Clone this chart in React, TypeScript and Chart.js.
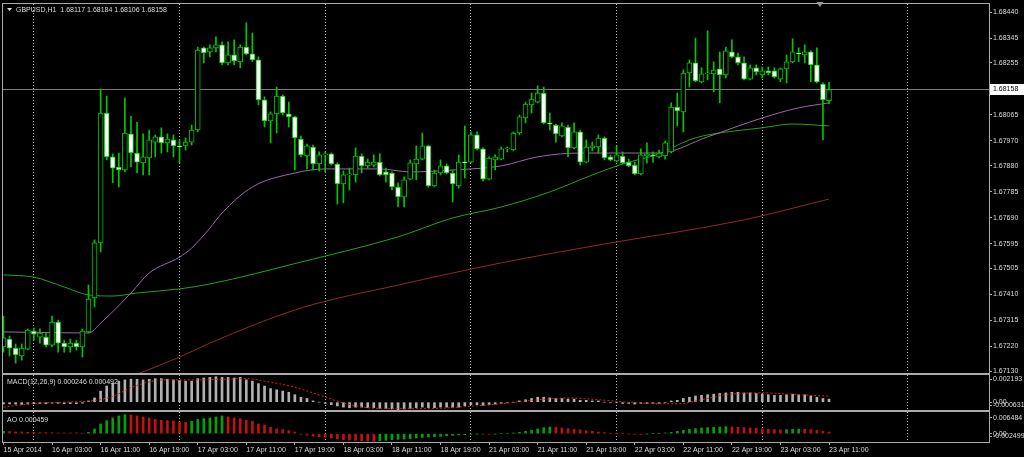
import React, { useEffect, useRef } from "react";
import { Chart, registerables } from "chart.js";

Chart.register(...registerables);

// ---------------- data ----------------
const symbolLabel = "GBPUSD,H1";

const opens = [
  1.67218, 1.67247, 1.67214, 1.67185, 1.6721, 1.67276, 1.67254, 1.67254, 1.67225, 1.67309,
  1.67232, 1.67218, 1.67232, 1.67218, 1.67273, 1.67397, 1.67598, 1.68072, 1.67912, 1.67875,
  1.67864, 1.67996, 1.67926, 1.6789, 1.67908, 1.67966, 1.67985, 1.67963, 1.67974, 1.67952,
  1.67952, 1.67966, 1.6801, 1.6831, 1.68295, 1.6831, 1.68321, 1.68255, 1.68284, 1.68259,
  1.68313, 1.68288, 1.68266, 1.6812, 1.68043, 1.68069, 1.68134, 1.68069, 1.68058, 1.67977,
  1.67915, 1.67948, 1.67886, 1.67919, 1.67923, 1.67886, 1.67813, 1.67846, 1.67846, 1.67915,
  1.67879, 1.67882, 1.67893, 1.67857, 1.67853, 1.67802, 1.67766, 1.67831, 1.67886, 1.67904,
  1.67952, 1.67806, 1.67853, 1.67879, 1.67853, 1.67806, 1.67893, 1.67893, 1.67992, 1.67941,
  1.67831, 1.67901, 1.67904, 1.67941, 1.67937, 1.67999, 1.68054, 1.68102, 1.68112, 1.68145,
  1.68036, 1.68028, 1.67988, 1.68021, 1.67945, 1.68003, 1.67893, 1.67945, 1.67948, 1.67981,
  1.67912, 1.67897, 1.67915, 1.67893, 1.67882, 1.6785, 1.67915, 1.67919, 1.67912, 1.67915,
  1.6793, 1.68094, 1.68076, 1.68218, 1.68255, 1.68186, 1.68215, 1.68215, 1.68233, 1.68211,
  1.68295, 1.68277, 1.68255, 1.68196, 1.68237, 1.68211, 1.68226, 1.68226, 1.68196, 1.68233,
  1.68259, 1.68291, 1.68284, 1.68295, 1.68248, 1.68178, 1.68117,
];
const highs = [
  1.67331, 1.67258, 1.67229, 1.67229, 1.67284, 1.67287, 1.67284, 1.67269, 1.67331, 1.67316,
  1.67243, 1.67247, 1.67243, 1.67284, 1.67444, 1.67609, 1.6816, 1.68134, 1.67923, 1.67926,
  1.68127, 1.68061, 1.68039, 1.67996, 1.6801, 1.67992, 1.68018, 1.67996, 1.67992, 1.67974,
  1.67981, 1.68028, 1.68313, 1.68313, 1.68321, 1.6835, 1.68332, 1.68332, 1.68339, 1.68321,
  1.68401, 1.68364, 1.68277, 1.68131, 1.68076, 1.68167, 1.68138, 1.68112, 1.68061, 1.67988,
  1.67959, 1.67955, 1.6793, 1.6793, 1.67926, 1.6789, 1.67861, 1.67871, 1.67945, 1.67923,
  1.67904, 1.67919, 1.67923, 1.67871, 1.67857, 1.67817, 1.67839, 1.67901, 1.67952, 1.67999,
  1.67955, 1.67864, 1.67901, 1.67886, 1.67864, 1.67919, 1.68025, 1.68003, 1.68003, 1.67945,
  1.67912, 1.67919, 1.67948, 1.67948, 1.68003, 1.68065, 1.68112, 1.68145, 1.68171, 1.68167,
  1.68072, 1.68032, 1.68036, 1.68028, 1.68036, 1.6801, 1.67974, 1.67966, 1.67992, 1.67985,
  1.67919, 1.67952, 1.6793, 1.67904, 1.67893, 1.67941, 1.67963, 1.6793, 1.67937, 1.6797,
  1.68109, 1.68145, 1.68229, 1.68266, 1.68346, 1.68237, 1.68372, 1.68259, 1.68295, 1.68313,
  1.68339, 1.68291, 1.68277, 1.68248, 1.68248, 1.6824, 1.6824, 1.68237, 1.68237, 1.68284,
  1.68343, 1.6831, 1.68321, 1.68299, 1.6831, 1.68182, 1.68184,
];
const lows = [
  1.67199, 1.67185, 1.67159, 1.6717, 1.67207, 1.67243, 1.67232, 1.67218, 1.67218, 1.67199,
  1.67199, 1.67199, 1.67207, 1.67181, 1.67269, 1.67364, 1.67565, 1.67901, 1.67817, 1.67802,
  1.67857, 1.67875, 1.67853, 1.67846, 1.67846, 1.67912, 1.67926, 1.6793, 1.67912, 1.6789,
  1.67937, 1.67955, 1.68003, 1.68255, 1.68277, 1.68295, 1.68248, 1.68248, 1.68248, 1.68237,
  1.68284, 1.68259, 1.68102, 1.68021, 1.67963, 1.67999, 1.68065, 1.68021, 1.67864, 1.67912,
  1.67868, 1.67864, 1.67861, 1.67857, 1.67882, 1.6774, 1.67744, 1.67791, 1.6782, 1.67853,
  1.67871, 1.67875, 1.67842, 1.6782, 1.67791, 1.67729, 1.67729, 1.67828, 1.67828, 1.67901,
  1.67802, 1.67802, 1.67846, 1.6785, 1.67747, 1.67798, 1.67835, 1.6789, 1.67937, 1.67824,
  1.67828, 1.67864, 1.67901, 1.6793, 1.67934, 1.67992, 1.68036, 1.68072, 1.68109, 1.68032,
  1.6801, 1.67966, 1.67985, 1.67912, 1.67941, 1.67882, 1.6789, 1.67934, 1.67926, 1.67901,
  1.67897, 1.67893, 1.67886, 1.67875, 1.67846, 1.67846, 1.6789, 1.67893, 1.67908, 1.67904,
  1.67926, 1.68025, 1.68003, 1.68167, 1.68186, 1.68182, 1.68193, 1.68149, 1.68109, 1.682,
  1.68273, 1.68248, 1.68193, 1.68193, 1.68211, 1.682, 1.68211, 1.682, 1.68186, 1.68182,
  1.68255, 1.68259, 1.68255, 1.68186, 1.68182, 1.67974, 1.68106,
];
const closes = [
  1.67251, 1.67214, 1.67189, 1.67214, 1.6728, 1.67265, 1.67269, 1.67225, 1.67309, 1.67232,
  1.67218, 1.67232, 1.67218, 1.67276, 1.67393, 1.67598, 1.68072, 1.67912, 1.67871, 1.67864,
  1.67999, 1.67926, 1.67893, 1.67912, 1.67974, 1.67985, 1.67963, 1.67977, 1.67952, 1.67948,
  1.67966, 1.6801, 1.68302, 1.68291, 1.6831, 1.68321, 1.68255, 1.68284, 1.68262, 1.68313,
  1.68288, 1.68266, 1.6812, 1.68043, 1.68069, 1.68134, 1.68072, 1.68058, 1.67981, 1.67919,
  1.67952, 1.67886, 1.67919, 1.67923, 1.67886, 1.67813, 1.67846, 1.6785, 1.67915, 1.67879,
  1.67893, 1.67893, 1.67846, 1.67846, 1.67802, 1.67766, 1.67828, 1.6789, 1.67904, 1.67952,
  1.67806, 1.67853, 1.67879, 1.67853, 1.67813, 1.67893, 1.6789, 1.67992, 1.67941, 1.67831,
  1.67908, 1.67912, 1.67941, 1.67945, 1.67999, 1.68058, 1.68105, 1.68123, 1.68145, 1.68036,
  1.68032, 1.67996, 1.68025, 1.67945, 1.68003, 1.67893, 1.67948, 1.67952, 1.67981, 1.67908,
  1.67901, 1.67919, 1.6789, 1.67879, 1.6785, 1.67919, 1.67923, 1.67915, 1.67926, 1.67963,
  1.68094, 1.6808, 1.68218, 1.68255, 1.68189, 1.68215, 1.68218, 1.68229, 1.68211, 1.68299,
  1.68277, 1.68255, 1.68196, 1.68237, 1.68222, 1.68226, 1.68218, 1.68204, 1.68233, 1.68259,
  1.68295, 1.68288, 1.68295, 1.68248, 1.68186, 1.6812, 1.68158,
];

// moving averages, read at selected bars
const maFastBars = [0, 14, 16, 21, 24, 29, 31, 34, 36, 41, 48, 53, 62, 67, 74, 82, 88, 95, 102, 108, 116, 125, 131, 136];
const maFastValues = [
  1.67273, 1.67269, 1.67305, 1.67415, 1.67488, 1.67546, 1.67579, 1.67652, 1.67707, 1.67802,
  1.67853, 1.67868, 1.67868, 1.67857, 1.67864, 1.67879, 1.67912, 1.67926, 1.67926, 1.67926,
  1.67985, 1.68054, 1.68091, 1.68109,
];
const maMidBars = [0, 5, 10, 14, 18, 22, 29, 34, 49, 65, 74, 82, 90, 97, 102, 108, 113, 116, 125, 130, 136];
const maMidValues = [
  1.67481, 1.67473, 1.67437, 1.67408, 1.67404, 1.67415, 1.6743, 1.67448, 1.67528, 1.6762,
  1.67689, 1.67729, 1.67784, 1.67846, 1.67886, 1.67923, 1.67974, 1.67992, 1.68018, 1.68032,
  1.68025,
];
const maSlowBars = [21, 29, 34, 49, 65, 82, 98, 122, 136];
const maSlowValues = [1.6711, 1.67181, 1.67232, 1.6736, 1.67444, 1.67525, 1.6759, 1.67682, 1.67758];

// time axis
const timeTickLabels = [
  "15 Apr 2014", "16 Apr 03:00", "16 Apr 11:00", "16 Apr 19:00", "17 Apr 03:00", "17 Apr 11:00",
  "17 Apr 19:00", "18 Apr 03:00", "18 Apr 11:00", "18 Apr 19:00", "21 Apr 03:00", "21 Apr 11:00",
  "21 Apr 19:00", "22 Apr 03:00", "22 Apr 11:00", "22 Apr 19:00", "23 Apr 03:00", "23 Apr 11:00",
];
const barsPerTimeTick = 8;
const gridBars = [5, 29, 53, 77, 101, 125, 149];

// price axis
const priceTicks = [
  1.6844, 1.68345, 1.68255, 1.68065, 1.6797, 1.6788, 1.67785, 1.6769, 1.67595, 1.67505,
  1.6741, 1.67315, 1.6722, 1.6713,
];
const priceMin = 1.67123;
const priceMax = 1.6847;

// MACD(12,26,9)
const macdParams = "12,26,9";
const macdMain = [
  -0.00015, -0.00014, -0.00016, -0.00018, -0.00015, -0.00013, -0.00012, -0.00012, -0.00008, -0.0001,
  -0.00012, -0.00012, -0.00013, -0.00008, 0.0001, 0.00034, 0.00089, 0.0013, 0.00153, 0.0017,
  0.0018, 0.00186, 0.00185, 0.0018, 0.00185, 0.0019, 0.0019, 0.00185, 0.0018, 0.00175,
  0.0017, 0.0017, 0.0019, 0.00195, 0.002, 0.00205, 0.002, 0.002, 0.00195, 0.002,
  0.0018, 0.0017, 0.0015, 0.0013, 0.0011, 0.001, 0.0009, 0.0008, 0.0006, 0.0004,
  0.0003, 0.0001, 0.0, -0.0001, -0.0002, -0.0003, -0.0004, -0.00045, -0.0004, -0.0004,
  -0.00045, -0.00045, -0.0005, -0.0005, -0.00055, -0.0006, -0.00055, -0.0005, -0.00045, -0.0004,
  -0.00045, -0.00045, -0.0004, -0.0004, -0.00045, -0.0004, -0.0003, -0.0002, -0.0002, -0.00025,
  -0.0002, -0.00015, -0.0001, -0.00005, 0.0, 0.0001, 0.0002, 0.0003, 0.0004, 0.0004,
  0.00035, 0.0003, 0.0003, 0.00025, 0.00025, 0.00015, 0.00015, 0.0001, 0.0001, 0.0,
  -0.00005, -0.00005, -0.0001, -0.0001, -0.00015, -0.0001, -0.0001, -0.0001, -0.0001, -0.00005,
  0.0001, 0.00015, 0.0003, 0.0004, 0.0005, 0.00055, 0.0006, 0.00065, 0.0007, 0.00075,
  0.0008, 0.0008, 0.00075, 0.00075, 0.0007, 0.00065, 0.0006, 0.00055, 0.00055, 0.0006,
  0.00065, 0.0006, 0.0006, 0.0005, 0.0004, 0.0003, 0.000246,
];
const macdSignalBars = [0, 5, 10, 15, 18, 21, 24, 27, 32, 40, 43, 48, 53, 56, 62, 71, 76, 82, 87, 93, 98, 104, 111, 115, 119, 125, 131, 136];
const macdSignalValues = [
  -0.0004, -0.0001, 0.0, 0.00014, 0.00047, 0.00117, 0.00164, 0.0018, 0.0018, 0.0019,
  0.0017, 0.0012, 0.00042, -0.00007, -0.0005, -0.0005, -0.00036, -0.00013, 0.00014, 0.00034,
  0.0002, -0.00005, -0.00013, 0.0002, 0.0006, 0.00075, 0.0006, 0.000492,
];
const macdAxisLabels = ["0.002193", "0.00", "-0.000631"];
const macdMin = -0.000631;
const macdMax = 0.002193;

// Awesome Oscillator
const aoValues = [
  0.0007, 0.0006, 0.0005, 0.0005, 0.0004, 0.0004, 0.0003, 0.0003, 0.0003, 0.0002,
  0.0002, 0.0002, 0.0002, 0.0001, 0.0004, 0.0014, 0.0029, 0.0039, 0.0047, 0.0053,
  0.0057, 0.0056, 0.0053, 0.005, 0.0047, 0.0043, 0.004, 0.0039, 0.0038, 0.0035,
  0.0034, 0.0037, 0.0043, 0.0045, 0.0047, 0.005, 0.0053, 0.005, 0.0047, 0.0045,
  0.004, 0.0037, 0.0029, 0.0026, 0.0019, 0.0014, 0.0012, 0.0009, 0.0005, -0.0002,
  -0.0004, -0.0007, -0.0009, -0.0011, -0.0013, -0.0016, -0.0018, -0.0019, -0.002, -0.0021,
  -0.0022, -0.0023, -0.0021, -0.002, -0.0018, -0.0017, -0.0016, -0.0015, -0.0013, -0.0011,
  -0.001, -0.0009, -0.0008, -0.0006, -0.0005, -0.0004, -0.0003, -0.0002, -0.0001, -0.00015,
  -0.0002, -0.0001, 0.0, 0.0001, 0.0002, 0.0004, 0.0007, 0.001, 0.0014, 0.0018,
  0.002, 0.0019, 0.0017, 0.0015, 0.0013, 0.0011, 0.0009, 0.0007, 0.0005, 0.0003,
  0.0001, 0.00005, 0.0, -0.0001, -0.0002, -0.00025, -0.0001, 0.0, 0.0001, 0.0002,
  0.0004, 0.0007, 0.001, 0.0013, 0.0015, 0.0017, 0.0018, 0.0019, 0.002, 0.0021,
  0.002, 0.0019, 0.0018, 0.0017, 0.0016, 0.0014, 0.0013, 0.0012, 0.0011, 0.0012,
  0.0013, 0.0014, 0.0013, 0.0012, 0.001, 0.0007, 0.000459,
];
const aoAxisLabels = ["0.006484", "0.00", "-0.002499"];
const aoMin = -0.002499;
const aoMax = 0.006484;

// ---------------- layout / style ----------------
const W = 1024;
const PLOT_LEFT = 3;
const PLOT_RIGHT = 989;
const FIRST_BAR_X = 3.5;
const BAR_STEP = 6.07;
const X_MIN = (PLOT_LEFT - FIRST_BAR_X) / BAR_STEP;
const X_MAX = (PLOT_RIGHT - FIRST_BAR_X) / BAR_STEP;

const FONT = "'Liberation Sans', Arial, sans-serif";
const FONT_SIZE = 7;
const TXT = "#dcdcdc";
const FRAME = "#ababab";
const GRID = "#b8b8b8";
const CANDLE = "#00c800";
const MA_FAST = "#9c68a8";
const MA_MID = "#1ea41e";
const MA_SLOW = "#8e2a2a";
const BID_LINE = "#7a7a7a";
const MACD_BAR = "#b0b0b0";
const MACD_SIG = "#e02020";
const AO_UP = "#00a400";
const AO_DOWN = "#c41010";

Chart.defaults.font.family = FONT;
Chart.defaults.font.size = FONT_SIZE;

const fmt5 = (v: number) => v.toFixed(5);

function fitAxis(width?: number, height?: number) {
  return (s: any) => {
    if (width !== undefined) s.width = width;
    if (height !== undefined) s.height = height;
    s.paddingTop = 0;
    s.paddingBottom = 0;
    s.paddingLeft = 0;
    s.paddingRight = 0;
  };
}

function xScales(showLabels: boolean) {
  return {
    x: {
      type: "linear",
      min: X_MIN,
      max: X_MAX,
      offset: false,
      display: showLabels,
      position: "bottom",
      afterBuildTicks: (s: any) => {
        s.ticks = timeTickLabels.map((_, k) => ({ value: k * barsPerTimeTick }));
      },
      afterFit: fitAxis(undefined, showLabels ? 15 : 0),
      ticks: {
        autoSkip: false,
        maxRotation: 0,
        minRotation: 0,
        align: "start",
        padding: 1,
        color: TXT,
        font: { size: FONT_SIZE, family: FONT },
        callback: (_v: any, k: number) => timeTickLabels[k],
      },
      grid: { offset: false, drawOnChartArea: false, drawTicks: true, tickLength: 3, tickColor: FRAME, color: FRAME },
      border: { display: false },
    },
    xg: {
      type: "linear",
      min: X_MIN,
      max: X_MAX,
      offset: false,
      position: "bottom",
      afterBuildTicks: (s: any) => {
        s.ticks = gridBars.map((v) => ({ value: v }));
      },
      afterFit: fitAxis(undefined, 0),
      ticks: { display: false },
      grid: { offset: false, drawTicks: false, color: GRID, lineWidth: 1, borderDash: [1, 2] },
      border: { display: false, dash: [1, 2] },
    },
  };
}

function yScale(min: number, max: number, values: () => number[], label: (v: number, k: number) => string) {
  return {
    position: "right",
    min,
    max,
    afterBuildTicks: (s: any) => {
      s.ticks = values().map((v) => ({ value: v }));
    },
    afterFit: fitAxis(W - PLOT_RIGHT, undefined),
    ticks: {
      autoSkip: false,
      padding: 1,
      color: TXT,
      font: { size: FONT_SIZE, family: FONT },
      callback: (v: any, k: number) => label(Number(v), k),
    },
    grid: { drawOnChartArea: false, drawTicks: true, tickLength: 3, tickColor: FRAME, color: FRAME },
    border: { display: false },
  };
}

function drawFrame(chart: any) {
  const { ctx, chartArea: a } = chart;
  ctx.save();
  ctx.strokeStyle = FRAME;
  ctx.lineWidth = 1;
  ctx.strokeRect(a.left - 0.5, a.top - 0.5, a.right - a.left + 1, a.bottom - a.top + 1);
  ctx.restore();
}

function drawText(chart: any, text: string, x: number, y: number, color = TXT) {
  const ctx = chart.ctx;
  ctx.save();
  ctx.font = `${FONT_SIZE}px ${FONT}`;
  ctx.fillStyle = color;
  ctx.textAlign = "left";
  ctx.textBaseline = "middle";
  ctx.fillText(text, x, y);
  ctx.restore();
}

const baseOptions = (padding: any) => ({
  animation: false,
  responsive: false,
  maintainAspectRatio: false,
  layout: { padding },
  plugins: { legend: { display: false }, tooltip: { enabled: false } },
  events: [],
});

function mainConfig(): any {
  const last = closes.length - 1;
  const bars = opens.map((_, i) => i);
  return {
    type: "bar",
    data: {
      datasets: [
        {
          type: "bar",
          order: 0,
          data: bars.map((i) => ({ x: i, y: [opens[i], closes[i]] })),
          backgroundColor: bars.map((i) => (closes[i] >= opens[i] ? "#000000" : "#ffffff")),
          borderColor: CANDLE,
          borderWidth: 1,
          borderSkipped: false,
          barThickness: 5,
          minBarLength: 1,
          grouped: false,
        },
        {
          type: "bar",
          order: 1,
          data: bars.map((i) => ({ x: i, y: [lows[i], highs[i]] })),
          backgroundColor: CANDLE,
          borderWidth: 0,
          barThickness: 1,
          grouped: false,
        },
        {
          type: "line",
          order: 2,
          data: maFastBars.map((b, k) => ({ x: b, y: maFastValues[k] })),
          borderColor: MA_FAST,
          borderWidth: 1,
          pointRadius: 0,
          cubicInterpolationMode: "monotone",
        },
        {
          type: "line",
          order: 3,
          data: maMidBars.map((b, k) => ({ x: b, y: maMidValues[k] })),
          borderColor: MA_MID,
          borderWidth: 1,
          pointRadius: 0,
          cubicInterpolationMode: "monotone",
        },
        {
          type: "line",
          order: 4,
          data: maSlowBars.map((b, k) => ({ x: b, y: maSlowValues[k] })),
          borderColor: MA_SLOW,
          borderWidth: 1,
          pointRadius: 0,
          cubicInterpolationMode: "monotone",
        },
      ],
    },
    options: {
      ...baseOptions({ left: PLOT_LEFT, top: 4, bottom: 3, right: 0 }),
      scales: {
        ...xScales(false),
        y: yScale(priceMin, priceMax, () => priceTicks, (v) => fmt5(v)),
      },
    },
    plugins: [
      {
        id: "mainDecor",
        beforeDatasetsDraw(chart: any) {
          const { ctx, chartArea: a, scales } = chart;
          const y = Math.round(scales.y.getPixelForValue(closes[last])) + 0.5;
          ctx.save();
          ctx.strokeStyle = BID_LINE;
          ctx.lineWidth = 1;
          ctx.beginPath();
          ctx.moveTo(a.left, y);
          ctx.lineTo(a.right, y);
          ctx.stroke();
          ctx.restore();
        },
        afterDraw(chart: any) {
          const { ctx, chartArea: a, scales } = chart;
          drawFrame(chart);
          ctx.save();
          ctx.fillStyle = TXT;
          ctx.beginPath();
          ctx.moveTo(7, 8);
          ctx.lineTo(12, 8);
          ctx.lineTo(9.5, 11);
          ctx.closePath();
          ctx.fill();
          ctx.restore();
          drawText(
            chart,
            `${symbolLabel}  ${fmt5(opens[last])} ${fmt5(highs[last])} ${fmt5(lows[last])} ${fmt5(closes[last])}`,
            16,
            10
          );
          const y = Math.round(scales.y.getPixelForValue(closes[last]));
          ctx.save();
          ctx.fillStyle = "#ffffff";
          ctx.fillRect(a.right + 1, y - 5, W - a.right - 1, 11);
          ctx.restore();
          drawText(chart, fmt5(closes[last]), a.right + 4, y + 0.5, "#000000");
          const sx = scales.x.getPixelForValue(last - 1.5);
          ctx.save();
          ctx.fillStyle = "#9a9a9a";
          ctx.beginPath();
          ctx.moveTo(sx - 3.5, a.top - 2);
          ctx.lineTo(sx + 3.5, a.top - 2);
          ctx.lineTo(sx, a.top + 3);
          ctx.closePath();
          ctx.fill();
          ctx.restore();
        },
      },
    ],
  };
}

function macdConfig(): any {
  const last = macdMain.length - 1;
  return {
    type: "bar",
    data: {
      datasets: [
        {
          type: "line",
          order: 0,
          data: macdSignalBars.map((b, k) => ({ x: b, y: macdSignalValues[k] })),
          borderColor: MACD_SIG,
          borderWidth: 1,
          borderDash: [2, 2],
          pointRadius: 0,
          cubicInterpolationMode: "monotone",
        },
        {
          type: "bar",
          order: 1,
          data: macdMain.map((v, i) => ({ x: i, y: v })),
          backgroundColor: MACD_BAR,
          borderWidth: 0,
          barThickness: 2,
          grouped: false,
        },
      ],
    },
    options: {
      ...baseOptions({ left: PLOT_LEFT, top: 1, bottom: 2, right: 0 }),
      scales: {
        ...xScales(false),
        y: yScale(
          macdMin,
          macdMax,
          () => {
            const r = macdMax - macdMin;
            return [macdMax - r * 0.13, 0, macdMin + r * 0.13];
          },
          (_v, k) => macdAxisLabels[k]
        ),
      },
    },
    plugins: [
      {
        id: "macdDecor",
        afterDraw(chart: any) {
          drawFrame(chart);
          const lastSignal = macdSignalValues[macdSignalValues.length - 1];
          drawText(chart, `MACD(${macdParams}) ${macdMain[last].toFixed(6)} ${lastSignal.toFixed(6)}`, 7, chart.chartArea.top + 7);
        },
      },
    ],
  };
}

function aoConfig(): any {
  const last = aoValues.length - 1;
  return {
    type: "bar",
    data: {
      datasets: [
        {
          type: "bar",
          data: aoValues.map((v, i) => ({ x: i, y: v })),
          backgroundColor: aoValues.map((v, i) => (i === 0 || v > aoValues[i - 1] ? AO_UP : AO_DOWN)),
          borderWidth: 0,
          barThickness: 2,
          grouped: false,
        },
      ],
    },
    options: {
      ...baseOptions({ left: PLOT_LEFT, top: 2, bottom: 0, right: 0 }),
      scales: {
        ...xScales(true),
        y: yScale(
          aoMin,
          aoMax,
          () => {
            const r = aoMax - aoMin;
            return [aoMax - r * 0.2, 0, aoMin + r * 0.2];
          },
          (_v, k) => aoAxisLabels[k]
        ),
      },
    },
    plugins: [
      {
        id: "aoDecor",
        afterDraw(chart: any) {
          drawFrame(chart);
          drawText(chart, `AO ${aoValues[last].toFixed(6)}`, 7, chart.chartArea.top + 8);
        },
      },
    ],
  };
}

export default function App() {
  const mainRef = useRef<HTMLCanvasElement>(null);
  const macdRef = useRef<HTMLCanvasElement>(null);
  const aoRef = useRef<HTMLCanvasElement>(null);

  useEffect(() => {
    const charts = [
      new Chart(mainRef.current as HTMLCanvasElement, mainConfig()),
      new Chart(macdRef.current as HTMLCanvasElement, macdConfig()),
      new Chart(aoRef.current as HTMLCanvasElement, aoConfig()),
    ];
    return () => charts.forEach((c) => c.destroy());
  }, []);

  const place = (top: number): React.CSSProperties => ({ position: "absolute", left: 0, top, display: "block" });

  return (
    <div style={{ position: "fixed", left: 0, top: 0, width: W, height: 457, background: "#000", overflow: "hidden" }}>
      <canvas ref={mainRef} width={W} height={376} style={place(0)} />
      <canvas ref={macdRef} width={W} height={38} style={place(374)} />
      <canvas ref={aoRef} width={W} height={47} style={place(410)} />
    </div>
  );
}
